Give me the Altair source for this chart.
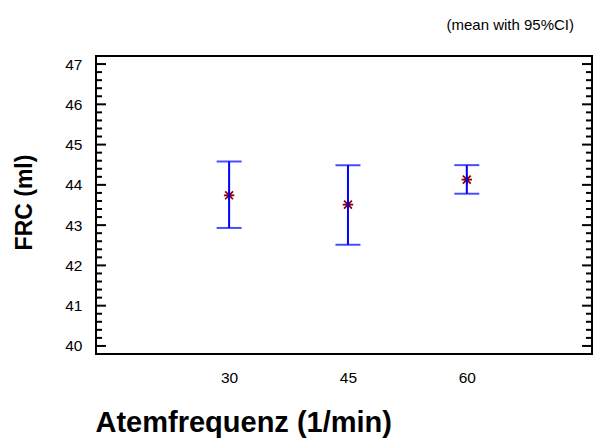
import altair as alt
import pandas as pd

# Data
rates = [30, 45, 60]
means = [43.74, 43.51, 44.13]
lower = [42.93, 42.51, 43.78]
upper = [44.58, 44.49, 44.49]

major_ticks = [40, 41, 42, 43, 44, 45, 46, 47]
minor_ticks = [round(40 + 0.2 * i, 1) for i in range(36) if i % 5 != 0]

W, H = 496, 298
FONT = "Liberation Sans"

df = pd.DataFrame({"rate": rates, "mean": means, "lo": lower, "hi": upper})
maj = pd.DataFrame({"v": major_ticks})
mnr = pd.DataFrame({"v": minor_ticks})

xs = alt.Scale(domain=[13.2, 75.8], nice=False, zero=False)
ys = alt.Scale(domain=[39.8, 47.2], nice=False, zero=False)

x_enc = alt.X(
    "rate:Q", scale=xs,
    axis=alt.Axis(values=rates, title="Atemfrequenz (1/min)", ticks=False, domain=False,
                  grid=False, labelFontSize=15.5, labelPadding=16, labelFont=FONT,
                  labelColor="black", titleFont=FONT, titleFontSize=29, titleFontWeight="bold",
                  titleColor="black", titleAlign="left", titleBaseline="alphabetic",
                  titleX=-1, titleY=77),
)
y_enc = alt.Y(
    "mean:Q", scale=ys,
    axis=alt.Axis(values=major_ticks, title="FRC (ml)", ticks=False, domain=False, grid=False,
                  labelFontSize=15.5, labelPadding=14, labelFont=FONT, labelColor="black",
                  titleFont=FONT, titleFontSize=23, titleFontWeight="bold", titleColor="black",
                  titleAngle=-90, titleAlign="center", titleBaseline="middle",
                  titleX=-72, titleY=146),
)

asterisk = "M -0.75 -0.75 L 0.75 0.75 M -0.75 0.75 L 0.75 -0.75 M -1 0 L 1 0 M 0 -1 L 0 1"

points = alt.Chart(df).mark_point(shape=asterisk, filled=False, color="#8B0000",
                                  strokeWidth=1.7, size=110, opacity=1).encode(x=x_enc, y=y_enc)

bars = alt.Chart(df).mark_rule(color="#0000FF", strokeWidth=2).encode(
    x=alt.X("rate:Q", scale=xs), y=alt.Y("lo:Q", scale=ys), y2="hi:Q")
cap_hi = alt.Chart(df).mark_tick(color="#0000FF", thickness=2, size=25, orient="horizontal").encode(
    x=alt.X("rate:Q", scale=xs), y=alt.Y("hi:Q", scale=ys))
cap_lo = alt.Chart(df).mark_tick(color="#0000FF", thickness=2, size=25, orient="horizontal").encode(
    x=alt.X("rate:Q", scale=xs), y=alt.Y("lo:Q", scale=ys))

def tick_layer(data, x0, x1):
    return alt.Chart(data).mark_rule(color="black", strokeWidth=2).encode(
        x=alt.value(x0), x2=alt.value(x1), y=alt.Y("v:Q", scale=ys))

ticks = [
    tick_layer(maj, 0, 10), tick_layer(maj, W - 10, W),
    tick_layer(mnr, 0, 6), tick_layer(mnr, W - 6, W),
]

chart = alt.layer(points, bars, cap_hi, cap_lo, *ticks).properties(
    width=W, height=H,
    background="white",
    title=alt.TitleParams("(mean with 95%CI)", anchor="end", font=FONT, fontSize=15,
                          fontWeight="normal", color="black", baseline="alphabetic",
                          offset=11, dx=-19),
    autosize=alt.AutoSizeParams(type="none"),
    padding={"left": 88, "top": 48, "right": 1, "bottom": 87},
).configure_view(stroke="black", strokeWidth=2)

chart.save("out.html", embed_options={"renderer": "svg", "actions": False})
